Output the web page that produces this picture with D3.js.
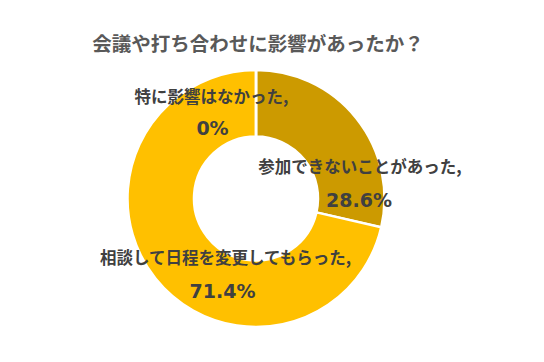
<!DOCTYPE html>
<html>
<head>
<meta charset="utf-8">
<script src="https://cdn.jsdelivr.net/npm/d3@7"></script>
<style>
  body { margin: 0; background: #fff; }
  text { font-family: "Noto Sans CJK JP", "Noto Sans", sans-serif; font-weight: bold; }
  text.pct { font-family: "DejaVu Sans", Verdana, sans-serif; }
</style>
</head>
<body>
<svg id="chart"></svg>
<script>
// Data
var categories = ["参加できないことがあった", "相談して日程を変更してもらった", "特に影響はなかった"];
var values = [28.6, 71.4, 0];
var colors = ["#CC9A00", "#FFC000", "#FFC000"];
var valueLabels = ["28.6%", "71.4%", "0%"];

var width = 544, height = 362;
var cx = 256, cy = 198.5;
var outerR = 128.5, innerR = 62;

var svg = d3.select("#chart")
    .attr("width", width)
    .attr("height", height);

// Title
svg.append("text")
    .attr("x", 258)
    .attr("y", 51)
    .attr("text-anchor", "middle")
    .style("font-size", "19.5px")
    .style("fill", "#595959")
    .text("会議や打ち合わせに影響があったか？");

var g = svg.append("g")
    .attr("transform", "translate(" + cx + "," + cy + ")");

var pie = d3.pie().sort(null).value(function (d) { return d; });
var arcs = pie(values);

var arc = d3.arc().innerRadius(innerR).outerRadius(outerR);

g.selectAll("path")
    .data(arcs)
    .enter().append("path")
    .attr("d", arc)
    .style("fill", function (d, i) { return colors[i]; })
    .style("stroke", "#fff")
    .style("stroke-width", 2.5);

// Label positions relative to donut centre: [catX, catY, pctX, pctY]
var labelPos = [[104, -26, 103, 8.5], [-30.5, 65.5, -33.5, 99.5], [-44.5, -95.5, -43.5, -63.5]];

var labels = g.selectAll("g.label")
    .data(arcs)
    .enter().append("g")
    .attr("class", "label");

labels.append("text")
    .attr("text-anchor", "middle")
    .attr("x", function (d, i) { return labelPos[i][0]; })
    .attr("y", function (d, i) { return labelPos[i][1]; })
    .style("font-size", "16.5px")
    .style("fill", "#404040")
    .text(function (d, i) { return categories[i] + ","; });

labels.append("text")
    .attr("class", "pct")
    .attr("text-anchor", "middle")
    .attr("x", function (d, i) { return labelPos[i][2]; })
    .attr("y", function (d, i) { return labelPos[i][3]; })
    .style("font-size", "19px")
    .style("fill", "#404040")
    .text(function (d, i) { return valueLabels[i]; });
</script>
</body>
</html>
